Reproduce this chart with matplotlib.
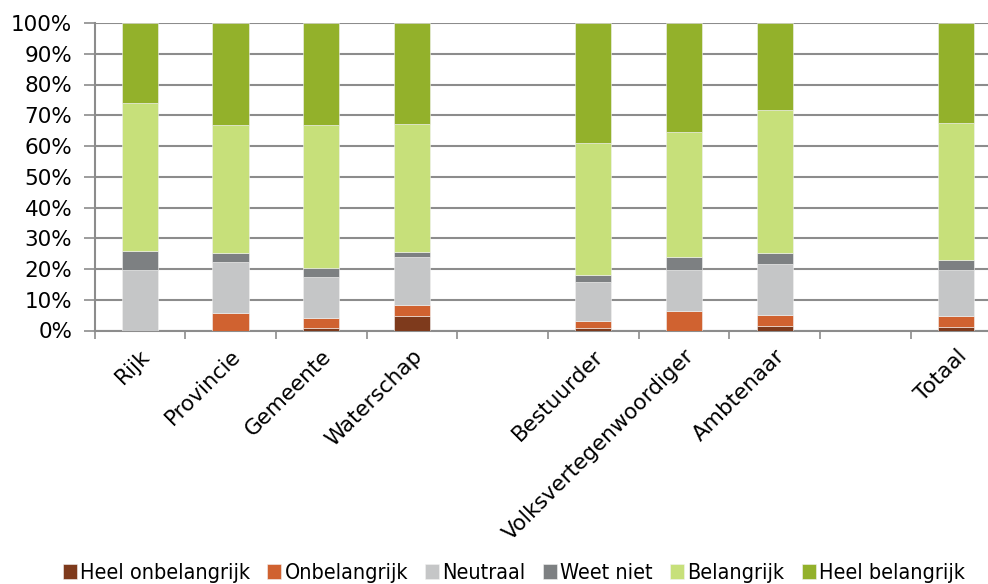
import numpy as np
import matplotlib
matplotlib.use("Agg")
import matplotlib.pyplot as plt
from matplotlib.ticker import PercentFormatter

# categories ("" = empty slot between groups)
categories = ["Rijk", "Provincie", "Gemeente", "Waterschap", "",
              "Bestuurder", "Volksvertegenwoordiger", "Ambtenaar", "", "Totaal"]

# percentages per answer (nan for the empty slots)
heel_onbelangrijk = [0.0, 0.0, 0.8, 4.7, np.nan, 0.8, 0.0, 1.6, np.nan, 1.2]
onbelangrijk      = [0.0, 5.7, 3.2, 3.5, np.nan, 2.2, 6.3, 3.3, np.nan, 3.4]
neutraal          = [19.7, 16.7, 13.3, 15.6, np.nan, 12.8, 13.3, 16.6, np.nan, 15.1]
weet_niet         = [6.1, 2.9, 3.1, 1.6, np.nan, 2.2, 4.4, 3.7, np.nan, 3.3]
belangrijk        = [48.1, 41.4, 46.3, 41.9, np.nan, 42.9, 40.5, 46.5, np.nan, 44.6]
heel_belangrijk   = [26.1, 33.3, 33.3, 32.7, np.nan, 39.1, 35.5, 28.3, np.nan, 32.4]

series = [
    ("Heel onbelangrijk", heel_onbelangrijk, "#7E3A1C"),
    ("Onbelangrijk", onbelangrijk, "#D06230"),
    ("Neutraal", neutraal, "#C5C6C7"),
    ("Weet niet", weet_niet, "#7D8082"),
    ("Belangrijk", belangrijk, "#C7E07A"),
    ("Heel belangrijk", heel_belangrijk, "#93B12B"),
]

W, H = 988, 584
fig = plt.figure(figsize=(W / 100, H / 100), dpi=100)
ax = fig.add_axes([94.5 / W, (H - 330.5) / H, 907 / W, 307.5 / H])

x = np.arange(len(categories))
bottom = np.zeros(len(categories))
for name, vals, col in series:
    v = np.array(vals, dtype=float)
    ax.bar(x, np.nan_to_num(v), width=0.4, bottom=bottom, color=col,
           label=name, edgecolor="#f2f2f2", linewidth=0.4, zorder=3)
    bottom += np.nan_to_num(v)

ax.set_xlim(-0.5, len(categories) - 0.5)
ax.set_ylim(0, 100)
ax.set_yticks(np.arange(0, 101, 10))
ax.yaxis.set_major_formatter(PercentFormatter(decimals=0))
ax.grid(axis="y", color="#8c8c8c", linewidth=1.5, zorder=0)

ax.set_xticks(x)
ax.set_xticklabels(categories, rotation=45, ha="right", rotation_mode="anchor")
ax.set_xticks(np.arange(-0.5, len(categories)), minor=True)
ax.tick_params(axis="x", which="major", length=0, pad=11, labelsize=15.5)
ax.tick_params(axis="x", which="minor", length=6, color="#8c8c8c", width=1.2)
ax.tick_params(axis="y", length=8, color="#8c8c8c", width=1.2, labelsize=15.5, pad=8)

for s in ["top", "right"]:
    ax.spines[s].set_visible(False)
for s in ["left", "bottom"]:
    ax.spines[s].set_color("#8c8c8c")
    ax.spines[s].set_linewidth(1.5)

fig.legend(loc="center", bbox_to_anchor=(0.52, 1 - 573 / H), ncol=6,
           frameon=False, handlelength=0.65, handleheight=0.65,
           handletextpad=0.15, columnspacing=0.8,
           prop={"family": "DejaVu Sans", "stretch": "condensed", "size": 15.5})

fig.savefig("out.png", dpi=100)
